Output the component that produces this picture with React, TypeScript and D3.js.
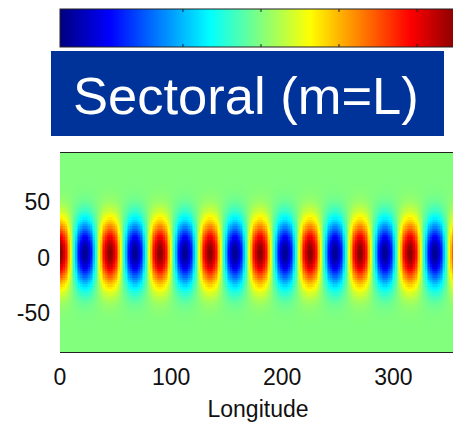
import React from "react";
import * as d3 from "d3";

// Spherical harmonic parameters (sectoral: m = L)
const degreeL = [8];
const orderM = [8];
const lonExtent = [0, 360];
const latExtent = [-90, 90];
const lonTicks = [0, 100, 200, 300];
const latTicks = [50, 0, -50];
const colorDomain = [-1.03, 1.02];
const colorbarTicks = [-0.4, 0, 0.4, 0.8];
const titleText = "Sectoral (m=L)";
const xLabel = "Longitude";

const W = 453;
const H = 423;

function jet(t: number): string {
  const c = (v: number) => Math.max(0, Math.min(1, v));
  const r = c(1.5 - Math.abs(4 * t - 3));
  const g = c(1.5 - Math.abs(4 * t - 2));
  const b = c(1.5 - Math.abs(4 * t - 1));
  return d3.rgb(r * 255, g * 255, b * 255).formatHex();
}

const L = degreeL[0];
const M = orderM[0];
const field = (lonDeg: number, latDeg: number) =>
  Math.pow(Math.cos((latDeg * Math.PI) / 180), L) * Math.cos((M * lonDeg * Math.PI) / 180);

export default function App() {
  const x = d3.scaleLinear().domain(lonExtent).range([60, 460]);
  const y = d3.scaleLinear().domain(latExtent).range([353, 152]);
  const cScale = d3.scaleLinear().domain(colorDomain).range([0, 1]).clamp(true);
  const cbX = d3.scaleLinear().domain(colorDomain).range([60, 460]);

  const dLon = 1.5;
  const dLat = 2;
  const lons = d3.range(lonExtent[0], lonExtent[1], dLon);
  const lats = d3.range(latExtent[0], latExtent[1], dLat);
  const cells: React.ReactElement[] = [];
  lons.forEach((lo, i) => {
    lats.forEach((la, j) => {
      const v = field(lo + dLon / 2, la + dLat / 2);
      const x0 = x(lo);
      const x1 = x(lo + dLon);
      const y0 = y(la + dLat);
      const y1 = y(la);
      cells.push(
        <rect
          key={`${i}-${j}`}
          x={x0}
          y={y0}
          width={x1 - x0 + 0.6}
          height={y1 - y0 + 0.6}
          fill={jet(cScale(v))}
        />
      );
    });
  });

  const stops = d3.range(0, 65).map((k) => k / 64);
  const font = "'Liberation Sans', Arial, sans-serif";

  return (
    <svg width={W} height={H} style={{ position: "absolute", left: 0, top: 0, background: "#fff" }}>
      <defs>
        <linearGradient id="jetgrad" x1="0" x2="1" y1="0" y2="0">
          {stops.map((s) => (
            <stop key={s} offset={s} stopColor={jet(s)} />
          ))}
        </linearGradient>
        <clipPath id="plotclip">
          <rect x={60} y={152} width={400} height={201} />
        </clipPath>
      </defs>
      <rect x={0} y={0} width={W} height={H} fill="#fff" />

      {/* colorbar */}
      <rect x={60} y={9} width={400} height={38} fill="url(#jetgrad)" stroke="#222" strokeWidth={1} />
      {colorbarTicks.map((t) => (
        <g key={t}>
          <line x1={cbX(t)} x2={cbX(t)} y1={9} y2={12} stroke="#222" strokeWidth={1} />
          <line x1={cbX(t)} x2={cbX(t)} y1={44} y2={47} stroke="#222" strokeWidth={1} />
        </g>
      ))}

      {/* heatmap */}
      <g clipPath="url(#plotclip)" shapeRendering="crispEdges">{cells}</g>
      <line x1={60} x2={460} y1={152.5} y2={152.5} stroke="#222" strokeWidth={1} />
      <line x1={60} x2={460} y1={352.5} y2={352.5} stroke="#222" strokeWidth={1} />

      {/* y tick labels */}
      {latTicks.map((t) => (
        <text key={t} x={50} y={y(t) + 5} textAnchor="end" dominantBaseline="central" fontFamily={font} fontSize={23} fill="#111">
          {t}
        </text>
      ))}

      {/* x tick labels */}
      {lonTicks.map((t) => (
        <text key={t} x={x(t)} y={385} textAnchor="middle" fontFamily={font} fontSize={23} fill="#111">
          {t}
        </text>
      ))}
      <text x={258} y={417} textAnchor="middle" fontFamily={font} fontSize={23} fill="#111">
        {xLabel}
      </text>

      {/* title box */}
      <rect x={51} y={51} width={393} height={85} fill="#003399" />
      <text x={73} y={114} fontFamily={font} fontSize={52.5} fill="#fff">
        {titleText}
      </text>
    </svg>
  );
}
